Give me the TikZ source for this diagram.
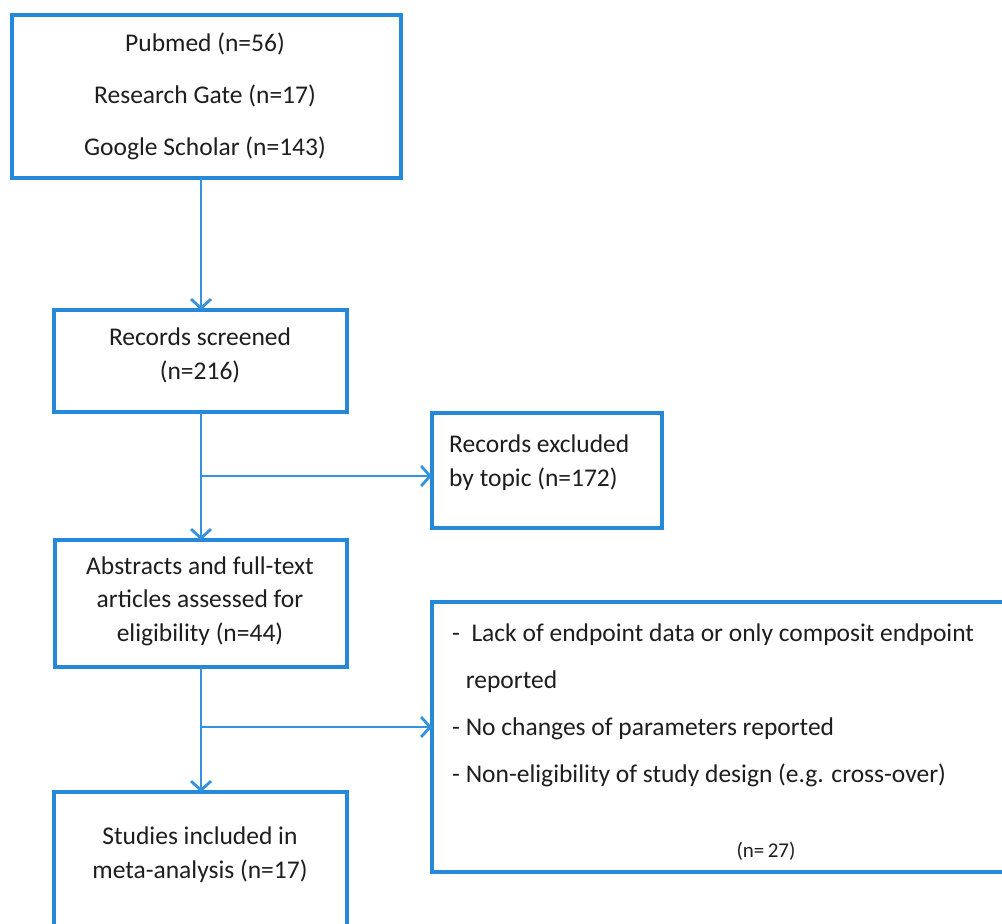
\documentclass[tikz,border=0pt]{standalone}
\usepackage{fontspec}
\setmainfont{Carlito}
\usetikzlibrary{arrows.meta}
\definecolor{boxblue}{RGB}{38,136,216}
\definecolor{arrblue}{RGB}{52,146,222}
\definecolor{txt}{RGB}{30,30,30}
\tikzset{
  box/.style={draw=boxblue, line width=4pt, anchor=north west, inner sep=0pt, outer sep=0pt},
  arr/.style={draw=arrblue, line width=2.6pt, -{Straight Barb[length=9pt,width=20pt,line width=2.8pt]}},
  txtc/.style={text=txt, align=center, inner sep=0pt, font=\fontsize{25.5}{34}\selectfont},
  txtl/.style={text=txt, align=left, inner sep=0pt, anchor=west, font=\fontsize{25.5}{34}\selectfont},
}
\begin{document}
\begin{tikzpicture}[x=1pt,y=-1pt]
\useasboundingbox (0,0) rectangle (1002,924);
\fill[white] (0,0) rectangle (1002,924);
\clip (0,0) rectangle (1002,924);
% boxes
\node[box, minimum width=389pt, minimum height=163pt] (b1) at (12,15) {};
\node[box, minimum width=293pt, minimum height=102pt] (b2) at (54,310) {};
\node[box, minimum width=230pt, minimum height=115pt] (b3) at (432,413) {};
\node[box, minimum width=292pt, minimum height=127pt] (b4) at (55,540) {};
\node[box, minimum width=620pt, minimum height=270pt] (b5) at (432,602) {};
\node[box, minimum width=293pt, minimum height=200pt] (b6) at (54,792) {};
% texts
\node[txtc, font=\fontsize{25.5}{52}\selectfont] (t1) at (205,96) {Pubmed (n=56)\\Research Gate (n=17)\\Google Scholar (n=143)};
\node[txtc] (t2) at (200,355) {Records screened\\(n=216)};
\node[txtl] (t3) at (449,463) {Records excluded\\by topic (n=172)};
\node[txtc, font=\fontsize{25.5}{33.5}\selectfont] (t4) at (200,601) {Abstracts and full-text\\articles assessed for\\eligibility (n=44)};
\node[txtl, font=\fontsize{25.5}{47}\selectfont] (t5) at (452,705) {-\ \ Lack of endpoint data or only composit endpoint\\\phantom{-\ }reported\\- No changes of parameters reported\\- Non-eligibility of study design (e.g. cross-over)};
\node[txtc, font=\fontsize{21}{24}\selectfont] (t5n) at (766,851) {(n=\,27)};
\node[txtc] (t6) at (200,855) {Studies included in\\meta-analysis (n=17)};
% connectors
\coordinate (j1) at (201,476);
\coordinate (j2) at (201,727);
\draw[arr] (b1.south -| j1) -- (b2.north -| j1);
\draw[arr] (b2.south -| j1) -- (b4.north -| j1);
\draw[arr] (j1) -- (j1 -| b3.west);
\draw[arr] (b4.south -| j2) -- (b6.north -| j2);
\draw[arr] (j2) -- (j2 -| b5.west);
\end{tikzpicture}
\end{document}
